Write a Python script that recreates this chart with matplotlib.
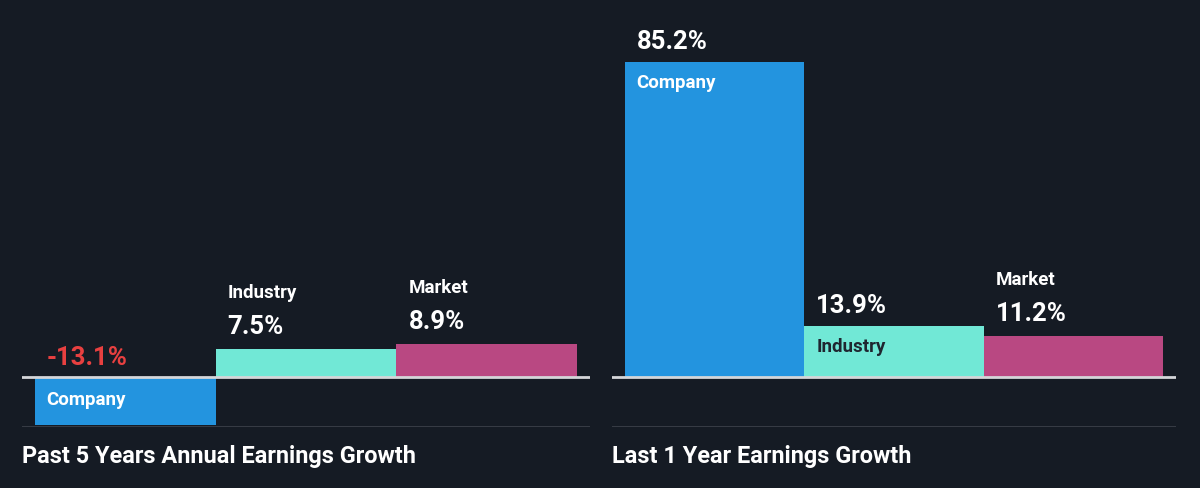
import matplotlib.pyplot as plt

plt.rcParams['font.family'] = ['Roboto', 'DejaVu Sans']

# data
categories = ['Company', 'Industry', 'Market']
past_5y = [-13.1, 7.5, 8.9]
last_1y = [85.2, 13.9, 11.2]
panel_titles = ['Past 5 Years Annual Earnings Growth', 'Last 1 Year Earnings Growth']

BG = '#151b24'
bar_colors = ['#2394df', '#71e8d6', '#b94882']
label_colors = ['white', '#1f2630', 'white']
NEG = '#e84040'

W, H = 1200, 488
fig = plt.figure(figsize=(W / 100, H / 100), dpi=100, facecolor=BG)

ymin, ymax = -13.52, 101.97
panels = [(22, 590, past_5y), (612, 1176, last_1y)]

VAL_FS = 18.5
LAB_FS = 13.5


def draw_panel(ax, values, title, x0):
    ax.set_facecolor(BG)
    ax.bar(range(len(values)), values, width=1.0, color=bar_colors, linewidth=0)
    ax.set_xlim(-0.57, 2.57)
    ax.set_ylim(ymin, ymax)
    ax.axhline(0, color='#d4d6d9', lw=2, zorder=3)
    ax.axhline(ymin, color='#3b4049', lw=2, zorder=3)
    ax.axis('off')
    for i, (v, name) in enumerate(zip(values, categories)):
        left = i - 0.5
        vtxt = f'{v:.1f}%'
        if v < 0:
            ax.annotate(vtxt, (left, 0), xytext=(12, 19), textcoords='offset pixels',
                        color=NEG, fontsize=VAL_FS, fontweight='bold', va='center')
            ax.annotate(name, (left, 0), xytext=(12, -23), textcoords='offset pixels',
                        color=label_colors[i], fontsize=LAB_FS, fontweight='bold', va='center')
        elif v > 12:
            ax.annotate(vtxt, (left, v), xytext=(12, 20), textcoords='offset pixels',
                        color='white', fontsize=VAL_FS, fontweight='bold', va='center')
            ax.annotate(name, (left, v), xytext=(12, -21), textcoords='offset pixels',
                        color=label_colors[i], fontsize=LAB_FS, fontweight='bold', va='center')
        else:
            ax.annotate(vtxt, (left, v), xytext=(12, 22), textcoords='offset pixels',
                        color='white', fontsize=VAL_FS, fontweight='bold', va='center')
            ax.annotate(name, (left, v), xytext=(12, 56), textcoords='offset pixels',
                        color='white', fontsize=LAB_FS, fontweight='bold', va='center')
    fig.text(x0 / W, 1 - 457 / H, title, color='white', fontsize=16.9,
             fontweight='bold', va='center', ha='left')


for (x0, x1, vals), title in zip(panels, panel_titles):
    ax = fig.add_axes([x0 / W, (H - 427) / H, (x1 - x0) / W, 427 / H])
    draw_panel(ax, vals, title, x0)

fig.savefig('out.png', dpi=100, facecolor=BG)
